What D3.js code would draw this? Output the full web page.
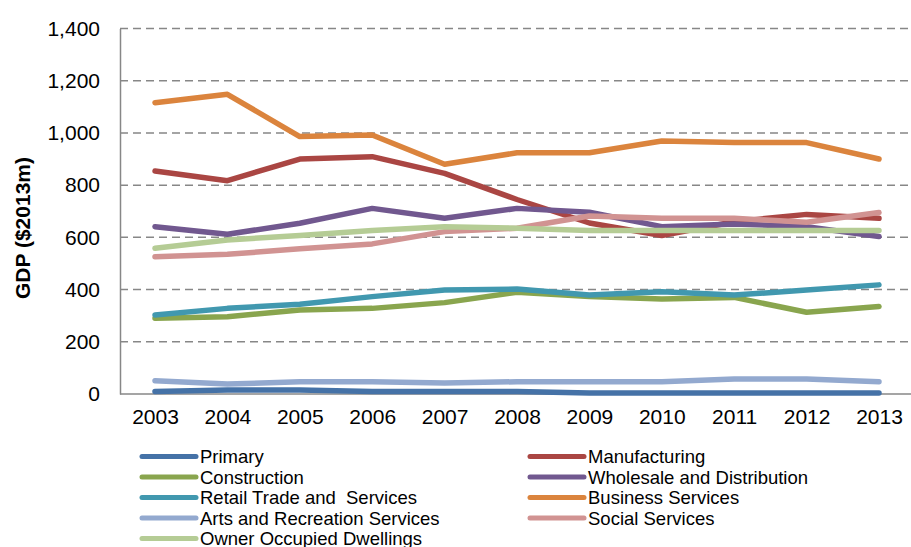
<!DOCTYPE html>
<html>
<head>
<meta charset="utf-8">
<script src="https://cdn.jsdelivr.net/npm/d3@7"></script>
<style>
  body { margin: 0; background: #fff; }
  svg { display: block; font-family: "Liberation Sans", Arial, sans-serif; }
</style>
</head>
<body>
<svg id="chart" width="911" height="547"></svg>
<script>
const years = ["2003", "2004", "2005", "2006", "2007", "2008", "2009", "2010", "2011", "2012", "2013"];
const yTicks = [0, 200, 400, 600, 800, 1000, 1200, 1400];

const primary = [10, 15, 15, 10, 10, 10, 4, 4, 4, 4, 4];
const manufacturing = [854, 817, 900, 909, 845, 745, 655, 607, 660, 688, 673];
const construction = [290, 296, 322, 328, 350, 390, 373, 364, 370, 313, 335];
const wholesale = [641, 612, 654, 711, 673, 711, 696, 641, 651, 641, 603];
const retail = [303, 328, 344, 373, 398, 402, 379, 392, 379, 398, 418];
const business = [1116, 1148, 986, 992, 880, 924, 924, 969, 963, 963, 900];
const arts = [51, 38, 47, 47, 42, 47, 47, 47, 57, 57, 47];
const social = [526, 535, 556, 575, 622, 635, 682, 673, 673, 658, 695];
const owner = [558, 590, 607, 626, 641, 635, 626, 626, 626, 626, 626];

const seriesNames = ["Primary", "Manufacturing", "Construction", "Wholesale and Distribution",
  "Retail Trade and  Services", "Business Services", "Arts and Recreation Services",
  "Social Services", "Owner Occupied Dwellings"];
const seriesValues = [primary, manufacturing, construction, wholesale, retail, business, arts, social, owner];
const colors = ["#4572A7", "#AA4643", "#89A54E", "#71588F", "#4198AF", "#DB843D", "#93A9CF", "#D19392", "#B5CC95"];

const svg = d3.select("#chart");

const x = d3.scalePoint().domain(years).range([155, 879]);
const y = d3.scaleLinear().domain([0, 1400]).range([394, 28.5]);

// gridlines
svg.append("g")
  .selectAll("line")
  .data(yTicks.filter(d => d > 0))
  .join("line")
  .attr("x1", 120)
  .attr("x2", 911)
  .attr("y1", d => y(d))
  .attr("y2", d => y(d))
  .attr("stroke", "#878787")
  .attr("stroke-width", 1.5)
  .attr("stroke-dasharray", "8,5");

// axes
const yAxis = svg.append("g")
  .attr("transform", "translate(120,0)")
  .call(d3.axisLeft(y).tickValues(yTicks).tickSize(0).tickPadding(20).tickFormat(d3.format(",")));
yAxis.select(".domain").attr("stroke", "#878787").attr("stroke-width", 1.5);
yAxis.selectAll("text").attr("font-size", 21).attr("fill", "#000").attr("font-family", "Liberation Sans");

const xAxis = svg.append("g")
  .attr("transform", "translate(0,394)")
  .call(d3.axisBottom(x).tickSize(0).tickPadding(15));
xAxis.select(".domain").attr("d", "M120,0H911").attr("stroke", "#878787").attr("stroke-width", 1.5);
xAxis.selectAll("text").attr("font-size", 21).attr("fill", "#000").attr("font-family", "Liberation Sans");

// y title
svg.append("text")
  .attr("transform", "translate(30,228) rotate(-90)")
  .attr("text-anchor", "middle")
  .attr("font-size", 21)
  .attr("font-weight", "bold")
  .text("GDP ($2013m)");

// lines
const line = d3.line().x((d, i) => x(years[i])).y(d => y(d));
svg.append("g")
  .selectAll("path")
  .data(seriesValues)
  .join("path")
  .attr("d", d => line(d))
  .attr("fill", "none")
  .attr("stroke", (d, i) => colors[i])
  .attr("stroke-width", 5.5)
  .attr("stroke-linecap", "round")
  .attr("stroke-linejoin", "round");

// legend
const legend = svg.append("g")
  .selectAll("g")
  .data(seriesNames)
  .join("g")
  .attr("transform", (d, i) => `translate(${i % 2 === 0 ? 140 : 528},${456.5 + Math.floor(i / 2) * 20.5})`);
legend.append("line")
  .attr("x1", 2).attr("x2", 56)
  .attr("stroke", (d, i) => colors[i])
  .attr("stroke-width", 5)
  .attr("stroke-linecap", "round");
legend.append("text")
  .attr("x", 60)
  .attr("dy", "0.36em")
  .attr("font-size", 18.5)
  .style("white-space", "pre")
  .text(d => d);
</script>
</body>
</html>
